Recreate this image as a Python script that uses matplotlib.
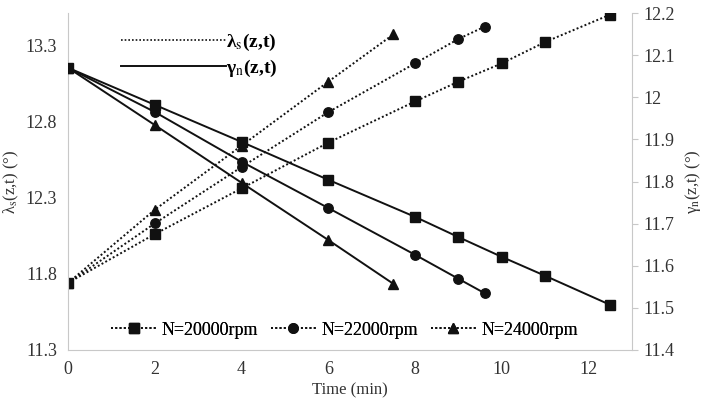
import matplotlib
matplotlib.use("Agg")
import matplotlib.pyplot as plt
from matplotlib.lines import Line2D
from matplotlib.ticker import FormatStrFormatter

plt.rcParams["font.family"] = ["Liberation Serif", "DejaVu Serif"]
plt.rcParams["mathtext.fontset"] = "stix"

# time points (min) for each speed
t_20000 = [0, 2, 4, 6, 8, 9, 10, 11, 12.5]
t_22000 = [0, 2, 4, 6, 8, 9, 9.6]
t_24000 = [0, 2, 4, 6, 7.5]

# lambda_s(z,t) - left axis, dotted
lam_20000 = [11.74, 12.06, 12.36, 12.66, 12.93, 13.06, 13.18, 13.32, 13.50]
lam_22000 = [11.74, 12.13, 12.50, 12.86, 13.18, 13.34, 13.42]
lam_24000 = [11.74, 12.22, 12.64, 13.06, 13.37]

# gamma_n(z,t) - right axis, solid
gam_20000 = [12.07, 11.982, 11.894, 11.804, 11.716, 11.668, 11.621, 11.576, 11.507]
gam_22000 = [12.07, 11.965, 11.847, 11.737, 11.626, 11.569, 11.535]
gam_24000 = [12.07, 11.934, 11.797, 11.661, 11.557]

labels = ["N=20000rpm", "N=22000rpm", "N=24000rpm"]
markers = ["s", "o", "^"]

ink = "#111111"
grey = "#c8c8c8"
dots = (0, (1, 1.2))

fig = plt.figure(figsize=(7.05, 4.0), dpi=100)
ax = fig.add_axes([0.0965, 0.125, 0.80, 0.8425])
ax2 = ax.twinx()

series = [(t_20000, lam_20000, gam_20000),
          (t_22000, lam_22000, gam_22000),
          (t_24000, lam_24000, gam_24000)]

for (t, lam, gam), m in zip(series, markers):
    ax.plot(t, lam, linestyle=dots, color=ink, lw=1.4, marker=m, ms=6.8)
    ax2.plot(t, gam, linestyle="-", color=ink, lw=1.4, marker=m, ms=6.8)

ax.set_xlim(0, 13)
ax.set_ylim(11.3, 13.51)
ax2.set_ylim(11.4, 12.2)
ax.set_xticks([0, 2, 4, 6, 8, 10, 12])
ax.set_yticks([11.3, 11.8, 12.3, 12.8, 13.3])
ax2.set_yticks([11.4, 11.5, 11.6, 11.7, 11.8, 11.9, 12.0, 12.1, 12.2])
ax.yaxis.set_major_formatter(FormatStrFormatter("%.1f"))
ax2.yaxis.set_major_formatter(FormatStrFormatter("%g"))

for a in (ax, ax2):
    a.spines["top"].set_visible(False)
    for s in ("left", "right", "bottom"):
        a.spines[s].set_color(grey)
ax.spines["right"].set_visible(False)
ax2.spines["left"].set_visible(False)
ax2.spines["bottom"].set_visible(False)

ax.tick_params(axis="both", length=0, labelsize=13, colors="#333333", pad=8)
ax2.tick_params(axis="y", length=4, color=grey, labelsize=13, labelcolor="#333333", pad=4)

ax.set_xlabel("Time (min)", fontsize=12, color="#333333", labelpad=3)
ax.set_ylabel(r"λ$_\mathrm{s}$(z,t) (°)", fontsize=12, color="#333333", labelpad=3)
ax2.set_ylabel(r"γ$_\mathrm{n}$(z,t) (°)", fontsize=12, color="#333333", labelpad=6, rotation=90)

# series legend along the bottom
handles = [Line2D([], [], linestyle=dots, color=ink, lw=1.4, marker=m, ms=6.8)
           for m in markers]
leg = ax2.legend(handles, labels, loc="lower center", bbox_to_anchor=(0.49, -0.015),
                 ncol=3, frameon=False, fontsize=13, handlelength=2.5,
                 handletextpad=0.3, columnspacing=0.7)

# line-style key in the upper left
key = [Line2D([], [], linestyle=dots, color=ink, lw=1.2),
       Line2D([], [], linestyle="-", color=ink, lw=1.4)]
ax.legend(key, [r"λ$_\mathrm{s}$(z,t)", r"γ$_\mathrm{n}$(z,t)"], loc="upper left",
          bbox_to_anchor=(0.062, 0.995), frameon=False,
          handlelength=5.4, handletextpad=0.0, labelspacing=0.25,
          prop={"weight": "bold", "size": 14})
ax2.add_artist(leg)

fig.savefig("out.png", dpi=100)
